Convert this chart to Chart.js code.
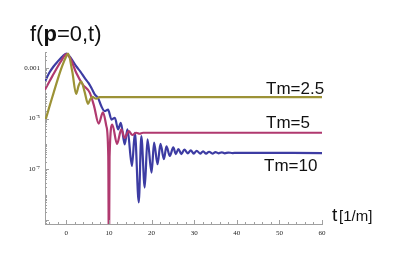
<!DOCTYPE html>
<html><head><meta charset="utf-8">
<script src="https://cdn.jsdelivr.net/npm/chart.js@4.4.0/dist/chart.umd.min.js"></script>
<style>html,body{margin:0;padding:0;background:#fff;} #wrap{position:relative;width:398px;height:260px;}</style>
</head><body><div id="wrap"><canvas id="c" width="398" height="260"></canvas></div>
<script>
// Tm = 2.5 (olive)
const tm25T    = [-5, -4, -3, -2, -1, 0, 0.4, 1.4, 2.3, 2.9, 3.5, 4.3, 5.1, 5.6, 6.1, 7.0, 7.8, 60];
const tm25LogF = [-5.13, -4.55, -4.0, -3.45, -2.95, -2.55, -2.44, -3.15, -4.03, -3.7, -3.55, -3.95, -4.42, -4.25, -4.15, -4.22, -4.16, -4.16];
// Tm = 5 (magenta)
const tm5T    = [-5, -4, -3, -2, -1, 0, 1, 2.35, 3.9, 5.5, 6.5, 7.6, 8.6, 9.4, 9.85, 10.0, 10.15, 10.8, 11.9, 12.9, 13.7, 14.65, 15.5, 16.4, 17.2, 18, 60];
const tm5LogF = [-3.87, -3.55, -3.25, -2.95, -2.68, -2.46, -2.65, -3.21, -3.67, -3.98, -4.5, -5.2, -4.76, -5.3, -6.5, -11, -6.5, -5.24, -6.0, -5.43, -5.76, -5.5, -5.65, -5.56, -5.6, -5.56, -5.56];
// Tm = 10 (blue)
const tm10T    = [-5, -4, -3, -2, -1, 0, 1, 2.35, 3.3, 4.3, 5.2, 5.9, 6.7, 7.45, 8.2, 9.0, 9.8, 10.6, 11.4, 12.15, 12.8, 13.7, 14.35, 15.4, 16.1, 17.0, 17.6, 18.4, 19.05, 20.0, 20.6, 21.4, 22.1, 22.9, 23.5, 24.3, 25.1, 25.7, 26.3, 27.0, 27.7, 28.5, 29.2, 29.9, 30.6, 31.4, 32.1, 32.8, 33.5, 34.3, 35.0, 35.7, 36.5, 37.2, 38.0, 39.0, 40.0, 60];
const tm10LogF = [-3.55, -3.2, -2.95, -2.75, -2.57, -2.44, -2.6, -2.95, -3.15, -3.4, -3.6, -3.8, -4.06, -4.19, -4.51, -4.71, -4.65, -5.04, -4.97, -5.43, -5.17, -6.02, -5.43, -6.87, -5.56, -8.3, -5.69, -7.72, -5.82, -7.13, -5.95, -6.8, -6.0, -6.6, -6.1, -6.47, -6.14, -6.40, -6.2, -6.4, -6.22, -6.37, -6.25, -6.38, -6.27, -6.38, -6.29, -6.38, -6.31, -6.38, -6.32, -6.37, -6.33, -6.37, -6.34, -6.36, -6.35, -6.36];

const seriesLabels = ['Tm=2.5', 'Tm=5', 'Tm=10'];
const xTickValues = [0, 10, 20, 30, 40, 50, 60];
const yTickValues = [1e-9, 1e-7, 1e-5, 1e-3];
const yTickLabels = ['', '10\u207B\u2077', '10\u207B\u2075', '0.001'];

const toPts = (ts, ls) => ts.map((t, i) => ({x: t, y: Math.pow(10, ls[i])}));

const colOlive = '#9c9236', colPink = '#b0396f', colBlue = '#3d3ca3';

const decor = {
  id: 'decor',
  afterDraw(chart) {
    const {ctx, chartArea: a, scales: {x, y}} = chart;
    ctx.save();
    ctx.strokeStyle = '#a0a0a0';
    ctx.lineWidth = 1;
    for (let v = -4; v <= 60; v += 2) {
      const px = Math.round(x.getPixelForValue(v)) + 0.5;
      const len = v % 10 === 0 ? 4 : 2;
      ctx.beginPath(); ctx.moveTo(px, a.bottom); ctx.lineTo(px, a.bottom - len); ctx.stroke();
    }
    for (let e = -10; e <= -2; e++) {
      for (let k = 1; k <= 9; k++) {
        const v = k * Math.pow(10, e);
        if (v < y.min || v > y.max) continue;
        const py = Math.round(y.getPixelForValue(v)) + 0.5;
        const len = (k === 1 && Math.abs(e) % 2 === 1) ? 4 : 2;
        ctx.beginPath(); ctx.moveTo(a.left, py); ctx.lineTo(a.left + len, py); ctx.stroke();
      }
    }
    ctx.fillStyle = '#111';
    ctx.textBaseline = 'alphabetic';
    ctx.textAlign = 'left';
    // title f(p=0,t)
    let cx = 30;
    const parts = [['f(', '400'], ['p', 'bold'], ['=0,t)', '400']];
    for (const [s, w] of parts) {
      ctx.font = w + ' 22px "Liberation Sans", Arial, sans-serif';
      ctx.fillText(s, cx, 41);
      cx += ctx.measureText(s).width;
    }
    // x axis label
    ctx.font = '19px "Liberation Sans", Arial, sans-serif';
    ctx.fillText('t', 332, 221);
    ctx.font = '15px "Liberation Sans", Arial, sans-serif';
    ctx.fillText('[1/m]', 339, 221);
    // series labels
    ctx.font = '17px "Liberation Sans", Arial, sans-serif';
    ctx.fillText(seriesLabels[0], 266, 93.5);
    ctx.fillText(seriesLabels[1], 266, 128);
    ctx.fillText(seriesLabels[2], 264, 171);
    ctx.restore();
  }
};

const ds = (label, ts, ls, col) => ({
  label, data: toPts(ts, ls), borderColor: col, backgroundColor: col,
  borderWidth: 2.2, pointRadius: 0, fill: false, cubicInterpolationMode: 'monotone'
});

new Chart(document.getElementById('c'), {
  type: 'line',
  data: {
    datasets: [
      ds(seriesLabels[0], tm25T, tm25LogF, colOlive),
      ds(seriesLabels[1], tm5T, tm5LogF, colPink),
      ds(seriesLabels[2], tm10T, tm10LogF, colBlue)
    ]
  },
  options: {
    responsive: false, animation: false,
    layout: {padding: {left: 0, top: 52, right: 76, bottom: 0}},
    plugins: {legend: {display: false}, tooltip: {enabled: false}},
    scales: {
      x: {
        type: 'linear', min: -5, max: 60,
        grid: {display: false, drawTicks: false},
        border: {display: true, color: '#a0a0a0', width: 1},
        afterBuildTicks: s => { s.ticks = xTickValues.map(v => ({value: v})); },
        afterFit: s => { s.height = 36; },
        ticks: {padding: 5, color: '#222', font: {family: '"Liberation Serif", "Times New Roman", serif', size: 7}, maxRotation: 0,
                callback: v => String(v)}
      },
      y: {
        type: 'logarithmic', min: Math.pow(10, -9.15), max: Math.pow(10, -2.38),
        grid: {display: false, drawTicks: false},
        border: {display: true, color: '#a0a0a0', width: 1},
        afterBuildTicks: s => { s.ticks = yTickValues.map(v => ({value: v})); },
        afterFit: s => { s.width = 45; },
        ticks: {padding: 5, color: '#222', font: {family: '"Liberation Serif", "Times New Roman", serif', size: 7},
                callback: (v) => { const i = yTickValues.findIndex(t => Math.abs(Math.log10(t) - Math.log10(v)) < 1e-6); return i >= 0 ? yTickLabels[i] : ''; }}
      }
    }
  },
  plugins: [decor]
});
</script></body></html>
